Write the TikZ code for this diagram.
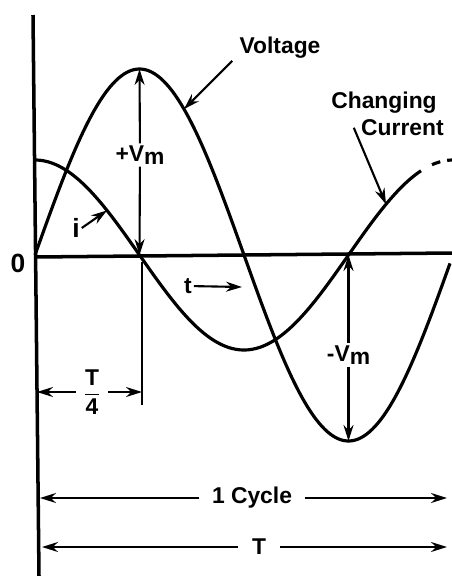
\documentclass[tikz,border=0pt]{standalone}
\usepackage{amsmath}
\usepackage{fontspec}
\setmainfont{Liberation Sans}
\usetikzlibrary{arrows.meta,positioning}

\begin{document}
\begin{tikzpicture}[x=0.02cm,y=-0.02cm,
  wave/.style={line width=1.8pt,line join=round},
  axis/.style={line width=2pt},
  dim/.style={line width=1.2pt},
  lbl/.style={font=\fontsize{13}{15}\selectfont\bfseries,inner sep=1pt},
  gaplbl/.style={lbl,inner xsep=7pt},
  >={Stealth[length=3.2mm,width=2mm]}]
\useasboundingbox (0,0) rectangle (452,576);
% axes
\coordinate (ytop) at (33,15);
\coordinate (ybot) at (39,576);
\coordinate (O) at (35,257);
\coordinate (xend) at (452,253);
\draw[axis] (ytop) -- (ybot);
\draw[axis] (O) -- (xend);
\node[lbl,font=\fontsize{15}{17}\selectfont\bfseries] (zero) at (18,263) {0};
% voltage and current
\draw[wave] plot[domain=35:450,samples=150,smooth] (\x,{255-186*sin((\x-35)/418*360)});
\draw[wave] plot[domain=35:421,samples=150,smooth] (\x,{255-95*cos((\x-35)/418*360)});
\draw[wave,dash pattern=on 5pt off 4pt] plot[domain=432:452,samples=10,smooth] (\x,{255-95*cos((\x-35)/418*360)});
% points on the waves
\coordinate (peak) at (139.5,69);
\coordinate (qzero) at (139.5,255);
\coordinate (trough) at (348.5,441);
\coordinate (hzero) at (348.5,255);
\coordinate (vhit) at (184,{255-186*sin((184-35)/418*360)});
\coordinate (ihit) at (107,{255-95*cos((107-35)/418*360)});
\coordinate (chit) at (386,{255-95*cos((386-35)/418*360)});
% labels of the waves
\node[lbl] (volt) at (280,48) {Voltage};
\draw[dim,->] ([xshift=-3pt]volt.south west) -- (vhit);
\node[lbl] (chg) at (384,103) {Changing};
\node[lbl,below left=1pt and -4pt of chg.south east] (cur) {Current};
\draw[dim,->] ([xshift=-3pt]cur.west) -- (chit);
\node[lbl,font=\fontsize{15}{17}\selectfont\bfseries] (ilbl) at (76,228) {i};
\draw[dim,->] (ilbl.east) -- (ihit);
\node[lbl] (tlbl) at (188,286) {t};
\coordinate (tend) at (242,287);
\draw[dim,->] (tlbl) -- (tend);
% peak values
\node[lbl] (vmax) at (140,155) {+V\raisebox{-2pt}{m}};
\draw[dim,->] (vmax) -- (peak);
\draw[dim,->] (vmax) -- (qzero);
\node[lbl] (vmin) at (348.5,355) {-V\raisebox{-2pt}{m}};
\draw[dim,->] (vmin) -- (hzero);
\draw[dim,->] (vmin) -- (trough);
% quarter period
\coordinate (qtop) at (142,262);
\coordinate (qbot) at (142,405);
\draw[dim] (qtop) -- (qbot);
\node[lbl,inner xsep=4pt] (quart) at (92,392) {$\dfrac{\text{T}}{\text{4}}$};
\coordinate (qleft) at (37,392);
\coordinate (qright) at (142,392);
\draw[dim,->] (quart) -- (qleft);
\draw[dim,->] (quart) -- (qright);
% one cycle and period
\node[gaplbl] (cyc) at (252,498) {1 Cycle};
\coordinate (cycl) at (40,498);
\coordinate (cycr) at (447,498);
\draw[dim,->] (cyc) -- (cycl);
\draw[dim,->] (cyc) -- (cycr);
\node[gaplbl,inner xsep=8pt] (per) at (259,547) {T};
\coordinate (perl) at (42,547);
\coordinate (perr) at (447,547);
\draw[dim,->] (per) -- (perl);
\draw[dim,->] (per) -- (perr);
\end{tikzpicture}
\end{document}
